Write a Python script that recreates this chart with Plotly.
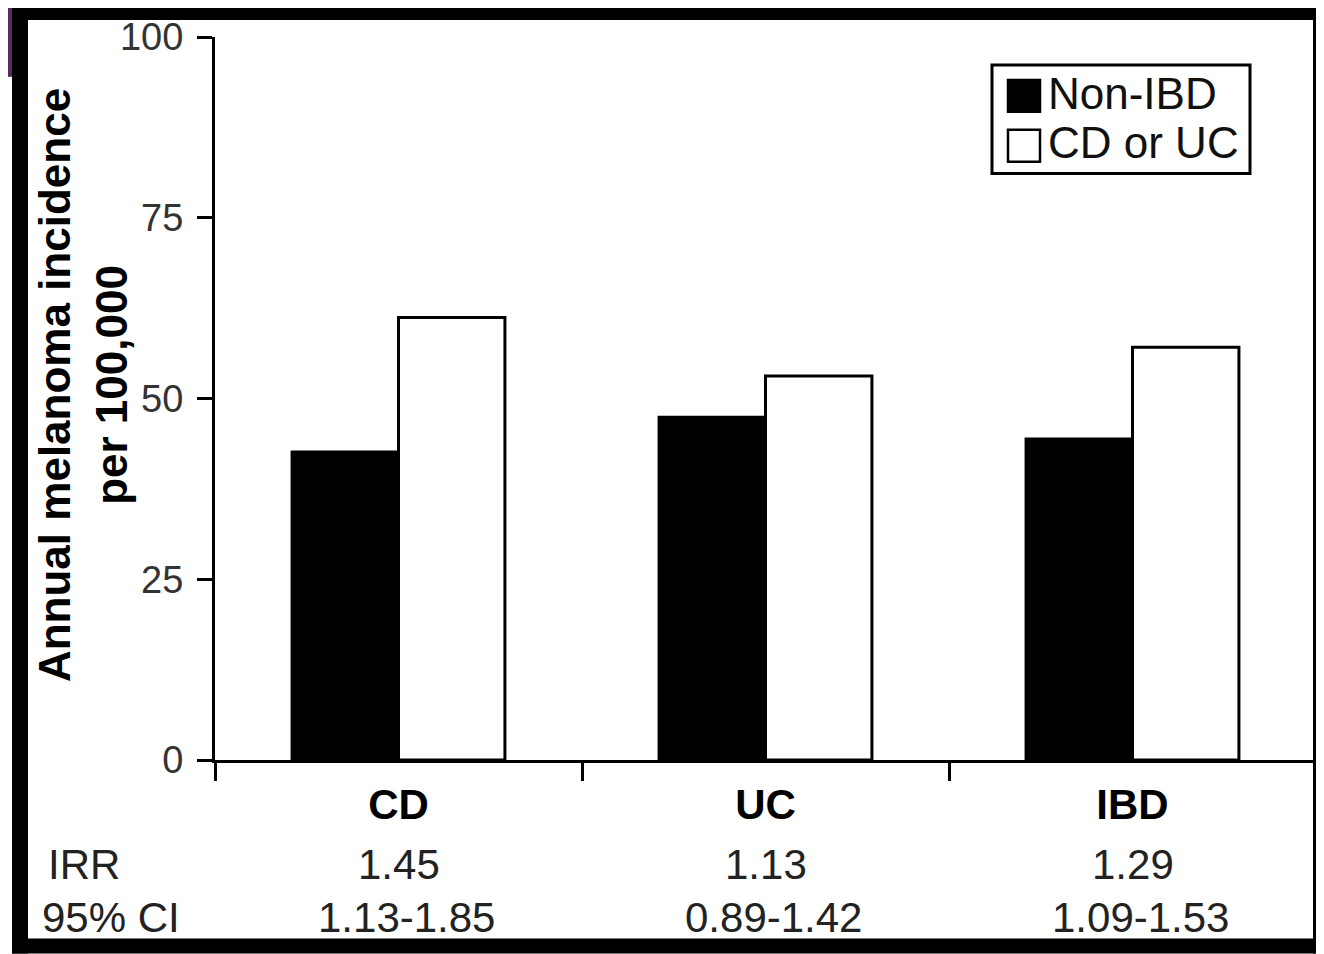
import plotly.graph_objects as go

# ---- data ----
categories = ["CD", "UC", "IBD"]
series_names = ["Non-IBD", "CD or UC"]
non_ibd = [42.6, 47.4, 44.4]
cd_or_uc = [61.2, 53.1, 57.1]
irr = ["1.45", "1.13", "1.29"]
ci95 = ["1.13-1.85", "0.89-1.42", "1.09-1.53"]
y_ticks = [0, 25, 50, 75, 100]

# ---- geometry (page pixels; the html body adds an 8px margin) ----
OFF = 8
PW, PH = 1324, 954
FW, FH = PW - OFF, PH - OFF
L, R, T, B = 215, 1316, 35, 760   # plot area in page pixels
W, H = R - L, B - T


def pxx(px):
    return (px - L) / W


def pxy(py):
    return (B - py) / H


FONT = "Liberation Sans, Arial, Helvetica, sans-serif"

fig = go.Figure()
fig.add_trace(go.Bar(
    x=categories, y=non_ibd, name=series_names[0],
    marker=dict(color="#000000", line=dict(color="#000000", width=3)),
    showlegend=False,
))
fig.add_trace(go.Bar(
    x=categories, y=cd_or_uc, name=series_names[1],
    marker=dict(color="#ffffff", line=dict(color="#000000", width=3)),
    showlegend=False,
))

shapes = []
annotations = []

# custom legend (large swatches like the original)
shapes.append(dict(type="rect", xref="paper", yref="paper",
                   x0=pxx(992), x1=pxx(1250), y0=pxy(63), y1=pxy(172),
                   line=dict(color="#000", width=3), fillcolor="#fff", layer="above"))
swatches = [("#000000", 78, 110, 92), ("#ffffff", 128, 160, 141)]
for (fill, y0, y1, yc), name in zip(swatches, series_names):
    shapes.append(dict(type="rect", xref="paper", yref="paper",
                       x0=pxx(1008), x1=pxx(1040), y0=pxy(y0), y1=pxy(y1),
                       line=dict(color="#000", width=2.5), fillcolor=fill, layer="above"))
    annotations.append(dict(xref="paper", yref="paper", x=pxx(1046), y=pxy(yc),
                            text=name, showarrow=False, xanchor="left", yanchor="middle",
                            font=dict(family=FONT, size=44, color="#111")))

# IRR / CI rows
annotations.append(dict(xref="paper", yref="paper", x=pxx(46), y=pxy(865),
                        text="IRR", showarrow=False, xanchor="left", yanchor="middle",
                        font=dict(family=FONT, size=42, color="#222")))
annotations.append(dict(xref="paper", yref="paper", x=pxx(40), y=pxy(918),
                        text="95% CI", showarrow=False, xanchor="left", yanchor="middle",
                        font=dict(family=FONT, size=42, color="#222")))
for c, v, ci in zip(categories, irr, ci95):
    annotations.append(dict(xref="x", yref="paper", x=c, y=pxy(865), text=v,
                            showarrow=False, xanchor="center", yanchor="middle",
                            font=dict(family=FONT, size=42, color="#222")))
    annotations.append(dict(xref="x", yref="paper", x=c, y=pxy(918), text=ci,
                            showarrow=False, xanchor="center", yanchor="middle", xshift=8,
                            font=dict(family=FONT, size=42, color="#222")))

# y-axis title
annotations.append(dict(xref="paper", yref="paper", x=pxx(83), y=pxy(384),
                        text="<b>Annual melanoma incidence<br>per 100,000</b>",
                        showarrow=False, textangle=-90, xanchor="center", yanchor="middle",
                        font=dict(family=FONT, size=44, color="#000")))

# outer frame (purple page corner + black border), page pixels
purple = "#5a2a5f"
frame = [
    (purple, 0, PW, 0, 3),
    (purple, 0, 12, 0, 75),
    ("#000", 12, PW, 3, 18),
    ("#000", 12, 28, 3, PH),
    ("#000", 1313, PW, 3, PH),
    ("#000", 12, PW, 939, PH),
]
for col, x0, x1, y0, y1 in frame:
    shapes.append(dict(type="rect", xref="paper", yref="paper",
                       x0=pxx(x0), x1=pxx(x1), y0=pxy(y0), y1=pxy(y1),
                       line=dict(width=0), fillcolor=col, layer="above"))

fig.update_layout(
    width=FW, height=FH,
    margin=dict(l=L - OFF, r=PW - R, t=T - OFF, b=PH - B, pad=0),
    paper_bgcolor="#ffffff", plot_bgcolor="#ffffff",
    barmode="group", bargap=0.42, bargroupgap=0,
    shapes=shapes, annotations=annotations,
    font=dict(family=FONT, color="#222"),
)
fig.update_xaxes(
    range=[-0.5, 2.5], showline=True, linecolor="#000", linewidth=3,
    ticks="outside", tickson="boundaries", ticklen=18, tickwidth=3, tickcolor="#000",
    showgrid=False, zeroline=False,
    tickfont=dict(family=FONT, size=42, color="#000", weight="bold"),
    ticklabelstandoff=6,
)
fig.update_yaxes(
    range=[0, 100], tickvals=y_ticks, showline=True, linecolor="#000", linewidth=3,
    ticks="outside", ticklen=15, tickwidth=3, tickcolor="#000",
    showgrid=False, zeroline=False,
    tickfont=dict(family=FONT, size=38, color="#333"),
    ticklabelstandoff=6,
)

fig.write_html("out.html")
